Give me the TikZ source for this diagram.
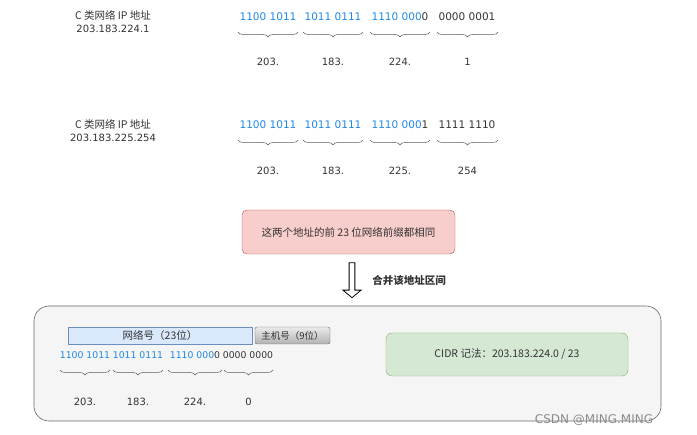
\documentclass[tikz,border=0pt]{standalone}
\usepackage{fontspec}
\setmainfont{DejaVu Sans}
\newfontfamily\cjkf{Noto Sans CJK SC}
\usetikzlibrary{decorations.pathreplacing,shapes.arrows}
\definecolor{bl}{HTML}{1E88E5}
\definecolor{tx}{HTML}{333333}
\definecolor{netfill}{HTML}{DAE8FC}
\definecolor{netdraw}{HTML}{6C8EBF}
\definecolor{redfill}{HTML}{F8CECC}
\definecolor{reddraw}{HTML}{B85450}
\definecolor{grfill}{HTML}{D5E8D4}
\definecolor{grdraw}{HTML}{82B366}
\tikzset{
  bin/.style={font=\fontsize{10.5}{12}\selectfont, text=tx, inner sep=0pt},
  binsm/.style={font=\fontsize{9.3}{11}\selectfont, text=tx, inner sep=0pt},
  lbl/.style={font=\fontsize{10}{11}\selectfont, text=tx, inner sep=0pt},
  cj/.style={font=\cjkf\fontsize{10.5}{12}\selectfont, text=tx, inner sep=0pt},
  br/.style={draw=tx!80, decorate, decoration={brace, mirror, amplitude=5pt}, line width=0.5pt},
}
\begin{document}
\begin{tikzpicture}[x=1pt,y=-1pt]
\useasboundingbox (0,0) rectangle (697,435);
% row 1
\node[cj] (l1a) at (113,15) {\textit{C} 类网络 IP 地址};
\node[lbl] (l1b) at (113,29) {203.183.224.1};
\node[bin,text=bl] (a1) at (268,17) {1100 1011};
\node[bin,text=bl] (a2) at (333,17) {1011 0111};
\node[bin] (a3) at (400,17) {\textcolor{bl}{1110 000}0};
\node[bin] (a4) at (467,17) {0000 0001};
\foreach \n/\l/\r/\v in {1/238/298/203.,2/303/363/183.,3/370/430/224.,4/437/498/1}{
  \draw[br] (\l,32) -- (\r,32);
  \node[lbl] (v1\n) at ({(\l+\r)/2},62) {\v};
}
% row 2
\node[cj] (l2a) at (113,124) {\textit{C} 类网络 IP 地址};
\node[lbl] (l2b) at (113,138) {203.183.225.254};
\node[bin,text=bl] (b1) at (268,125) {1100 1011};
\node[bin,text=bl] (b2) at (333,125) {1011 0111};
\node[bin] (b3) at (400,125) {\textcolor{bl}{1110 000}1};
\node[bin] (b4) at (467,125) {1111 1110};
\foreach \n/\l/\r/\v in {1/238/298/203.,2/303/363/183.,3/370/430/225.,4/437/498/254}{
  \draw[br] (\l,140) -- (\r,140);
  \node[lbl] (v2\n) at ({(\l+\r)/2},171) {\v};
}
% red box
\node[cj, draw=reddraw, fill=redfill, rounded corners=5pt, minimum width=213pt, minimum height=44pt] (red) at (348.5,232) {这两个地址的前 23 位网络前缀都相同};
% hollow arrow
\node[single arrow, draw=black, fill=white, line width=0.8pt, rotate=270, minimum height=35pt, minimum width=18pt, single arrow head extend=3pt, single arrow tip angle=100, inner sep=1pt] (arr) at (352,279) {};
\node[cj, font=\cjkf\fontsize{10.5}{12}\selectfont\bfseries] (merge) at (409,281) {合并该地址区间};
% big box
\draw[draw=black!60, fill=black!4, rounded corners=15pt, line width=0.6pt] (34,306) rectangle (661,421);
\node[cj, draw=netdraw, fill=netfill, minimum width=184pt, minimum height=17pt, inner sep=0pt] (net) at (160,335.5) {网络号（23位）};
\node[cj, draw=black!60, top color=black!8, bottom color=black!30, rounded corners=2pt, minimum width=75pt, minimum height=17pt, font=\cjkf\fontsize{9.5}{10}\selectfont] (host) at (292.5,335.5) {主机号（9位）};
\node[binsm,text=bl] (c1) at (85,355) {1100 1011};
\node[binsm,text=bl] (c2) at (138,355) {1011 0111};
\node[binsm] (c3) at (195,355) {\textcolor{bl}{1110 000}0};
\node[binsm] (c4) at (248,355) {0000 0000};
\foreach \n/\l/\r/\v in {1/60/110/203.,2/113/163/183.,3/168/222/224.,4/224/273/0}{
  \draw[br] (\l,370) -- (\r,370);
  \node[lbl] (v3\n) at ({(\l+\r)/2},402) {\v};
}
\node[cj, draw=grdraw, fill=grfill, rounded corners=6pt, minimum width=242pt, minimum height=43pt] (cidr) at (507,354.5) {CIDR 记法：203.183.224.0 / 23};
\node[font=\fontsize{12}{14}\selectfont, text=black!45, inner sep=0pt] (wm) at (594,420) {CSDN @MING.MING};
\end{tikzpicture}
\end{document}
